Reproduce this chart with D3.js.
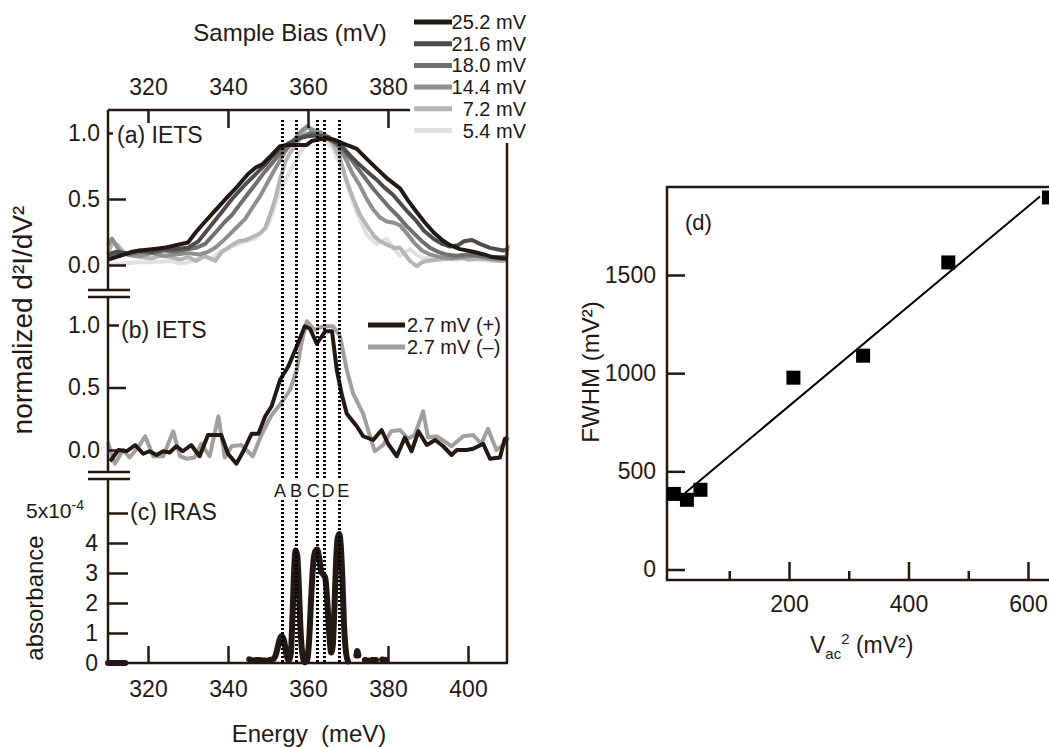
<!DOCTYPE html>
<html>
<head>
<meta charset="utf-8">
<script src="https://cdn.jsdelivr.net/npm/d3@7"></script>
<style>
  body { margin: 0; background: #fff; }
  svg text { font-family: "Liberation Sans", Arial, sans-serif; fill: #231815; }
</style>
</head>
<body>
<svg id="chart" width="1049" height="747"></svg>
<script>
// ---- data ----
var energyTicks = [320, 340, 360, 380, 400]
var biasTicks = [320, 340, 360, 380]
var ietsTicks = [0, 0.5, 1]
var irasTicks = [0, 1, 2, 3, 4, 5]

var legendA = ["25.2 mV", "21.6 mV", "18.0 mV", "14.4 mV", "7.2 mV", "5.4 mV"]
var colorsA = ["#231815", "#4d4d4d", "#6f6f6f", "#8f8f8f", "#b5b5b5", "#e0e0e0"]

// (a) IETS, [energy meV, normalized d2I/dV2]
var iets252 = [[310,0.04],[313,0.07],[316,0.1],[318,0.11],[321,0.12],[324,0.13],[327,0.15],[330,0.17],[332,0.25],[334.3,0.33],[337,0.42],[340,0.52],[342.5,0.6],[345,0.69],[347,0.74],[348.5,0.76],[350.5,0.82],[353,0.9],[355,0.91],[357.2,0.91],[359.7,0.91],[361,0.94],[362.6,0.95],[364.7,0.96],[366.5,0.95],[368.8,0.92],[370.5,0.9],[372.2,0.88],[374.5,0.81],[377.2,0.73],[380,0.65],[383,0.58],[385,0.49],[387.2,0.4],[389,0.33],[391.3,0.25],[393.5,0.19],[395.5,0.15],[398,0.12],[401.3,0.1],[404,0.08],[406,0.06],[408.8,0.05],[410,0.05]]
var iets216 = [[310,0.08],[312,0.1],[315,0.09],[318,0.11],[321,0.1],[324,0.12],[327,0.12],[330,0.13],[332.6,0.18],[335,0.27],[338.4,0.4],[341,0.5],[344.3,0.61],[347,0.69],[349.3,0.76],[351,0.82],[353,0.88],[355,0.92],[357,0.95],[359,0.97],[361,0.98],[363,0.98],[365,0.97],[367,0.93],[368.8,0.89],[370.5,0.83],[372.5,0.77],[374.7,0.71],[377,0.65],[379,0.59],[381.3,0.53],[383,0.47],[385,0.4],[387.2,0.33],[389,0.26],[391.3,0.2],[393.5,0.16],[395.5,0.14],[397.5,0.15],[399,0.18],[401,0.19],[403,0.16],[405.5,0.13],[408.8,0.11],[410,0.12]]
var iets180 = [[310,0.05],[312,0.09],[315,0.08],[318,0.1],[321,0.09],[324,0.11],[327,0.1],[330,0.12],[332,0.13],[334.3,0.16],[337,0.25],[339,0.32],[341,0.38],[343,0.46],[345,0.54],[346.8,0.61],[349,0.7],[351,0.77],[352.6,0.83],[354.5,0.88],[356.5,0.93],[358.5,0.97],[360.5,1.0],[362.5,0.99],[364.5,0.96],[366.5,0.93],[368.5,0.88],[370.5,0.81],[372.5,0.73],[374.5,0.65],[376.5,0.57],[378.5,0.5],[380.5,0.43],[382.5,0.37],[384.5,0.3],[386.5,0.24],[388.5,0.18],[390.5,0.13],[392.5,0.1],[394.5,0.08],[397,0.07],[400,0.08],[403,0.07],[406,0.06],[410,0.06]]
var iets144 = [[310,0.15],[311,0.2],[313,0.1],[315,0.08],[318,0.07],[321,0.09],[324,0.07],[327,0.08],[330,0.09],[333,0.08],[335,0.1],[336.8,0.13],[339,0.19],[341,0.25],[344.3,0.35],[346,0.43],[348,0.52],[350,0.63],[352,0.74],[354.3,0.86],[356.5,0.95],[358.5,1.02],[359.8,1.05],[361.5,1.02],[363.5,1.0],[365.5,0.96],[367.5,0.9],[369.5,0.8],[371,0.7],[373,0.6],[374.5,0.51],[376.3,0.42],[378,0.36],[379.7,0.33],[381.5,0.32],[383,0.3],[384.7,0.24],[386.5,0.17],[388.5,0.11],[390.5,0.08],[393,0.06],[396,0.05],[399,0.06],[402,0.07],[405,0.05],[408,0.04],[409.5,0.05],[410,0.15]]
var iets72 = [[310,0.08],[311,0.17],[312.5,0.15],[314,0.09],[316,0.07],[318,0.06],[321,0.05],[323,0.07],[325.8,0.06],[328,0.04],[330,0.06],[332,0.03],[334,0.07],[336.8,0.03],[338.5,0.1],[340.5,0.14],[342.6,0.18],[344.5,0.19],[346.8,0.22],[348,0.24],[349.3,0.28],[350.5,0.38],[351.8,0.5],[353,0.65],[354.3,0.78],[355.5,0.85],[356.8,0.9],[358.5,0.98],[359.7,1.05],[361,1.02],[362.5,1.0],[364,0.98],[365.5,0.95],[366.5,0.9],[368,0.81],[369.5,0.65],[371.3,0.5],[373,0.38],[374.7,0.3],[376.5,0.22],[378,0.18],[380,0.15],[381.5,0.13],[383,0.13],[384.5,0.07],[385.5,0.03],[387.2,-0.01],[388.5,0.02],[389.8,0.03],[392,0.04],[395.5,0.05],[398,0.06],[400,0.04],[403,0.05],[406,0.04],[408,0.03],[410,0.03]]
var iets54 = [[310,0.0],[313,0.01],[317.5,0.02],[321,0.02],[325.8,0.03],[328,0.01],[330,0.02],[332,0.04],[334.3,0.06],[336,0.05],[338,0.1],[340,0.13],[342.6,0.16],[344.5,0.18],[346.8,0.2],[348.5,0.25],[350,0.3],[350.9,0.38],[352,0.48],[353.4,0.58],[355,0.68],[356.8,0.78],[358,0.85],[359.3,0.91],[361,0.94],[362.5,0.96],[364,0.95],[365.2,0.92],[366.3,0.88],[368,0.76],[369.7,0.63],[371,0.5],[372.2,0.4],[373.5,0.31],[374.7,0.23],[376,0.19],[377.2,0.16],[378.5,0.18],[379.7,0.2],[381.3,0.13],[383,0.07],[384.3,0.1],[385.5,0.12],[387,0.08],[388.8,0.05],[391,0.06],[394,0.05],[397,0.04],[400,0.05],[403,0.04],[406,0.03],[410,0.03]]
var seriesA = [iets252, iets216, iets180, iets144, iets72, iets54]

// (b) IETS at 2.7 mV, positive and negative bias
var legendB = ["2.7 mV (+)", "2.7 mV (–)"]
var colorsB = ["#231815", "#a0a0a0"]
var ietsPlus = [[310.5,-0.09],[312.6,0.0],[314.7,-0.01],[316.8,0.04],[318.8,-0.03],[320.4,-0.01],[322.1,-0.04],[323.8,-0.01],[325.4,-0.02],[327.1,0.03],[328.7,-0.01],[330.8,0.04],[332.9,-0.05],[335,0.12],[338.3,0.12],[340,-0.03],[342.1,-0.11],[344,0.0],[345.9,0.13],[347.6,0.13],[349.3,0.27],[350.9,0.35],[353,0.56],[355.1,0.67],[357.2,0.83],[359.2,0.99],[360.5,0.97],[362.2,0.85],[364.3,0.95],[366,0.95],[367.2,0.64],[368.4,0.45],[369.7,0.29],[372.2,0.19],[373.8,0.11],[376.3,0.08],[378.4,0.16],[380,0.05],[382.2,-0.05],[384.2,0.1],[385.9,-0.01],[387.6,0.15],[389.7,0.04],[391.8,0.08],[393.8,0.03],[395.9,-0.04],[397.2,0.0],[399.7,0.0],[401.3,0.01],[403.8,0.05],[405.5,-0.07],[408,-0.06],[409.2,0.09],[410,0.1]]
var ietsMinus = [[310,0.06],[311.7,-0.11],[313.8,0.0],[315.4,-0.06],[317.5,0.02],[319.3,0.11],[321.3,-0.05],[323.8,-0.05],[326.3,0.15],[328,-0.05],[329.7,-0.07],[331.7,-0.06],[333.3,0.05],[335.4,-0.05],[337.6,0.27],[339.2,-0.06],[340.9,0.03],[343.3,0.04],[346.2,-0.05],[348.2,0.11],[350.7,0.27],[353.4,0.38],[355.5,0.48],[357.2,0.64],[358.4,0.86],[359.7,1.03],[361.7,0.96],[363.8,0.99],[366.3,0.99],[368,0.91],[369.7,0.64],[371.3,0.45],[373.8,0.29],[375.5,0.11],[376.7,-0.01],[378.8,0.04],[380.8,0.15],[383,0.16],[385,0.09],[386.7,0.12],[388.8,0.31],[390,0.1],[392.2,0.11],[395.9,0.03],[398.8,0.11],[401.3,0.12],[403.3,0.05],[405,0.17],[407.1,0.0],[409.2,0.05],[410,0.1]]

// (c) IRAS, absorbance in units of 1e-4 (null = gap)
var iras = [[310,0],[312,0],[314.3,0],null,
  [345.3,0.12],[346.3,0.08],null,[347,0.1],[348,0.1],null,[348.6,0.08],[349.3,0.08],null,
  [350.4,0.1],[351.2,0.12],[351.8,0.22],[352.4,0.5],[352.9,0.78],[353.4,0.9],[354,0.75],[354.6,0.3],[355.2,0.08],
  [355.7,0.3],[356.1,1.5],[356.5,3.0],[356.9,3.75],[357.3,3.6],[357.7,2.6],[358.1,1.2],[358.6,0.3],[359.2,0.02],
  [359.8,0.1],[360.3,0.8],[360.8,2.2],[361.3,3.3],[361.8,3.72],[362.3,3.78],[362.8,3.5],[363.3,3.05],[363.8,2.95],[364.3,2.85],[364.8,2.1],[365.3,1.0],[365.8,0.35],
  [366.2,0.6],[366.6,1.8],[367,3.3],[367.4,4.15],[367.8,4.3],[368.2,3.9],[368.6,2.8],[369,1.3],[369.5,0.35],[370,0.05],null,
  [372.1,0.25],[372.3,0.4],[372.6,0.25],null,[374.2,0.1],[375.2,0.08],null,[376,0.1],[377,0.1],null,[378.5,0.12],[379.5,0.1],null]

var peakEnergies = [353.5, 357.0, 362.3, 364.1, 367.7]
var peakNames = ["A", "B", "C", "D", "E"]
var peakLabelEnergies = [353.0, 357.0, 361.3, 365.0, 368.8]

// (d) FWHM vs Vac^2
var vacSquared = [7.3, 29.2, 51.8, 207.4, 324, 466.6, 635]
var fwhm = [385, 355, 406, 977, 1089, 1564, 1895]
var fitLine = [[26, 390], [620, 1900]]
var dTicksY = [0, 500, 1000, 1500]
var dTicksX = [100, 200, 300, 400, 500, 600]

// ---- drawing ----
var ink = "#231815"
var font = '"Liberation Sans", Arial, sans-serif'
var svg = d3.select("#chart")

var x = d3.scaleLinear().domain([310, 410]).range([108, 508])
var yA = d3.scaleLinear().domain([0, 1]).range([265, 133])
var yB = d3.scaleLinear().domain([0, 1]).range([450, 325])
var yC = d3.scaleLinear().domain([0, 5]).range([663, 513])
var xD = d3.scaleLinear().domain([0, 600]).range([669.5, 1028])
var yD = d3.scaleLinear().domain([0, 1500]).range([569.5, 275])

function styleAxis(g, size) {
  g.attr("font-size", size).attr("font-family", font).attr("color", ink)
  g.select(".domain").remove()
  g.selectAll(".tick line").attr("stroke-width", 2.5)
  g.selectAll(".tick text").attr("fill", ink)
}

// (a) curves, lightest drawn first
var lineA = d3.line().x(function(d) { return x(d[0]) }).y(function(d) { return yA(d[1]) })
svg.append("g").selectAll("path")
  .data(seriesA.slice().reverse())
  .enter().append("path")
  .attr("d", lineA)
  .attr("fill", "none")
  .attr("stroke", function(d, i) { return colorsA[colorsA.length - 1 - i] })
  .attr("stroke-width", 4)
  .attr("stroke-linejoin", "round")

// (b) curves
var lineB = d3.line().x(function(d) { return x(d[0]) }).y(function(d) { return yB(d[1]) })
svg.append("g").selectAll("path")
  .data([ietsMinus, ietsPlus])
  .enter().append("path")
  .attr("d", lineB)
  .attr("fill", "none")
  .attr("stroke", function(d, i) { return colorsB[1 - i] })
  .attr("stroke-width", 4)
  .attr("stroke-linejoin", "round")

// (c) IRAS
var lineC = d3.line()
  .defined(function(d) { return d !== null })
  .x(function(d) { return x(d[0]) })
  .y(function(d) { return yC(d[1]) })
  .curve(d3.curveMonotoneX)
svg.append("path")
  .attr("d", lineC(iras))
  .attr("fill", "none")
  .attr("stroke", ink)
  .attr("stroke-width", 6)
  .attr("stroke-linecap", "round")
  .attr("stroke-linejoin", "round")

// dotted peak markers
var peaks = svg.append("g")
peakEnergies.forEach(function(e) {
  var px = Math.round(x(e)) + 0.5
  ;[[120, 478], [500, 663]].forEach(function(seg) {
    peaks.append("line")
      .attr("x1", px).attr("x2", px)
      .attr("y1", seg[0]).attr("y2", seg[1])
      .attr("stroke", "#000")
      .attr("stroke-width", 3)
      .attr("stroke-dasharray", "2,2")
  })
})
peaks.selectAll("text")
  .data(peakNames)
  .enter().append("text")
  .attr("x", function(d, i) { return x(peakLabelEnergies[i]) })
  .attr("y", 497)
  .attr("text-anchor", "middle")
  .attr("font-size", 18)
  .text(function(d) { return d })

// frame lines of the left figure
var frame = svg.append("g").attr("stroke", ink).attr("stroke-width", 2.5).attr("fill", "none")
frame.append("path").attr("d", "M108,110H410")
frame.append("path").attr("d", "M108,110V290")
frame.append("path").attr("d", "M108,297V472")
frame.append("path").attr("d", "M108,479V663H508")
frame.append("path").attr("d", "M507,143V663")
;[290, 297, 472, 479].forEach(function(yy) {
  frame.append("path").attr("d", "M88," + yy + "H130")
})

// axes of the left figure
svg.append("g").attr("transform", "translate(0,110)")
  .call(d3.axisTop(x).tickValues(biasTicks).tickSize(-18).tickPadding(15))
  .call(styleAxis, 23)
svg.append("g").attr("transform", "translate(0,663)")
  .call(d3.axisBottom(x).tickValues(energyTicks).tickSize(-17).tickPadding(18))
  .call(styleAxis, 23)
svg.append("g").attr("transform", "translate(108,0)")
  .call(d3.axisLeft(yA).tickValues(ietsTicks).tickFormat(d3.format(".1f")).tickSize(-18).tickPadding(8))
  .call(styleAxis, 23)
svg.append("g").attr("transform", "translate(108,0)")
  .call(d3.axisLeft(yB).tickValues(ietsTicks).tickFormat(d3.format(".1f")).tickSize(-18).tickPadding(8))
  .call(styleAxis, 23)
svg.append("g").attr("transform", "translate(108,0)")
  .call(d3.axisLeft(yC).tickValues(irasTicks).tickFormat(function(d) { return d === 5 ? "" : d }).tickSize(-20).tickPadding(10))
  .call(styleAxis, 23)

var exp = svg.append("text")
  .attr("x", 84).attr("y", yC(5) + 5)
  .attr("text-anchor", "end")
  .attr("font-size", 21)
exp.append("tspan").text("5x10")
exp.append("tspan").attr("dy", -8).attr("font-size", 14).text("-4")

// panel labels with white boxes
function panelLabel(px, py, label, boxX) {
  svg.append("rect")
    .attr("x", boxX).attr("y", py - 20)
    .attr("width", 95).attr("height", 26)
    .attr("fill", "#fff")
  svg.append("text")
    .attr("x", px).attr("y", py)
    .attr("font-size", 23)
    .text(label)
}
panelLabel(117, 143, "(a) IETS", 113)
panelLabel(121, 338, "(b) IETS", 119)
panelLabel(130, 520, "(c) IRAS", 129)

// legend (a)
var legA = svg.append("g")
legA.selectAll("line")
  .data(legendA)
  .enter().append("line")
  .attr("x1", 414).attr("x2", 452)
  .attr("y1", function(d, i) { return 22 + i * 21.7 })
  .attr("y2", function(d, i) { return 22 + i * 21.7 })
  .attr("stroke", function(d, i) { return colorsA[i] })
  .attr("stroke-width", 5)
legA.selectAll("text")
  .data(legendA)
  .enter().append("text")
  .attr("x", 526)
  .attr("y", function(d, i) { return 29 + i * 21.7 })
  .attr("text-anchor", "end")
  .attr("font-size", 20)
  .text(function(d) { return d })

// legend (b)
var legB = svg.append("g")
legB.selectAll("line")
  .data(legendB)
  .enter().append("line")
  .attr("x1", 368).attr("x2", 405)
  .attr("y1", function(d, i) { return 325 + i * 22 })
  .attr("y2", function(d, i) { return 325 + i * 22 })
  .attr("stroke", function(d, i) { return colorsB[i] })
  .attr("stroke-width", 5)
legB.selectAll("text")
  .data(legendB)
  .enter().append("text")
  .attr("x", 407)
  .attr("y", function(d, i) { return 332 + i * 22 })
  .attr("font-size", 20)
  .text(function(d) { return d })

// titles of the left figure
svg.append("text").attr("x", 290).attr("y", 41).attr("text-anchor", "middle")
  .attr("font-size", 24).text("Sample Bias (mV)")
svg.append("text").attr("x", 309).attr("y", 742).attr("text-anchor", "middle")
  .attr("font-size", 24).attr("xml:space", "preserve").text("Energy  (meV)")
svg.append("text").attr("transform", "translate(32,320) rotate(-90)").attr("text-anchor", "middle")
  .attr("font-size", 28).text("normalized d²I/dV²")
svg.append("text").attr("transform", "translate(43,598) rotate(-90)").attr("text-anchor", "middle")
  .attr("font-size", 24).text("absorbance")

// (d) FWHM vs Vac^2
var frameD = svg.append("g").attr("stroke", ink).attr("stroke-width", 2.5).attr("fill", "none")
frameD.append("path").attr("d", "M1049,187H667V580H1049")

svg.append("g").attr("transform", "translate(667,0)")
  .call(d3.axisLeft(yD).tickValues(dTicksY).tickFormat(d3.format("d")).tickSize(-18).tickPadding(11))
  .call(styleAxis, 23)
var axD = svg.append("g").attr("transform", "translate(0,580)")
  .call(d3.axisBottom(xD).tickValues(dTicksX).tickSize(-18).tickPadding(16)
    .tickFormat(function(d) { return d % 200 ? "" : d }))
  .call(styleAxis, 23)
axD.selectAll(".tick line").attr("y2", function(d) { return d % 200 ? -9 : -18 })

svg.append("line")
  .attr("x1", xD(fitLine[0][0])).attr("y1", yD(fitLine[0][1]))
  .attr("x2", xD(fitLine[1][0])).attr("y2", yD(fitLine[1][1]))
  .attr("stroke", "#000").attr("stroke-width", 2)

svg.append("g").selectAll("rect")
  .data(vacSquared)
  .enter().append("rect")
  .attr("x", function(d) { return xD(d) - 7 })
  .attr("y", function(d, i) { return yD(fwhm[i]) - 7 })
  .attr("width", 14).attr("height", 14)
  .attr("fill", "#000")

svg.append("text").attr("x", 685).attr("y", 230).attr("font-size", 22).text("(d)")
svg.append("text").attr("transform", "translate(599,372) rotate(-90)").attr("text-anchor", "middle")
  .attr("font-size", 24).text("FWHM (mV²)")
var xl = svg.append("text").attr("x", 810).attr("y", 653).attr("font-size", 23)
xl.append("tspan").text("V")
xl.append("tspan").attr("dy", 6).attr("font-size", 15).text("ac")
xl.append("tspan").attr("dy", -15).attr("font-size", 15).text("2")
xl.append("tspan").attr("dy", 9).attr("xml:space", "preserve").text(" (mV²)")
</script>
</body>
</html>
